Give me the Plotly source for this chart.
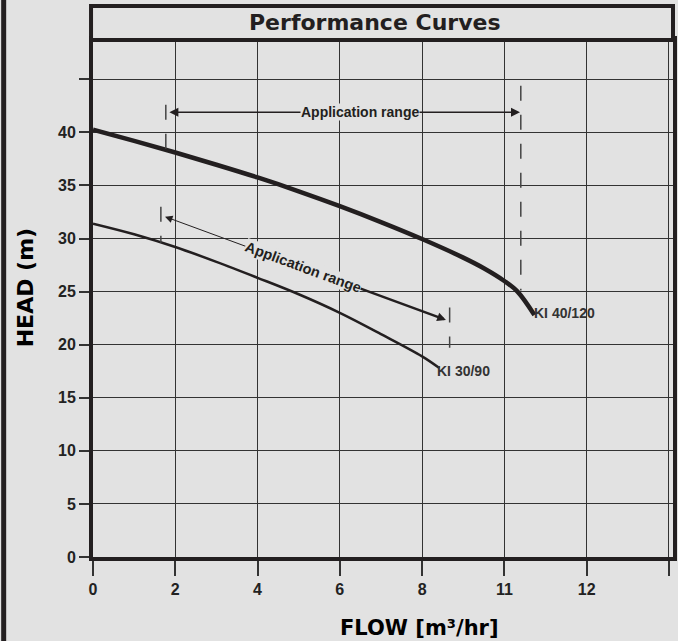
import plotly.graph_objects as go

# ---- data ----
ki40_flow = [0, 1, 2, 3, 4, 5, 6, 7, 8, 9, 9.5, 10, 10.32, 10.73]
ki40_head = [40.25, 39.2, 38.1, 36.95, 35.75, 34.45, 33.05, 31.55, 29.95, 28.2, 27.2, 26.0, 25.0, 22.8]

ki30_flow = [0, 1, 2, 3, 4, 5, 6, 7, 8, 8.42]
ki30_head = [31.4, 30.4, 29.2, 27.8, 26.3, 24.75, 23.0, 21.0, 18.9, 17.8]

x_tickvals = [0, 2, 4, 6, 8, 10, 12, 14]
x_ticktext = ["0", "2", "4", "6", "8", "11", "12", ""]
y_tickvals = [0, 5, 10, 15, 20, 25, 30, 35, 40, 45]
y_ticktext = ["0", "5", "10", "15", "20", "25", "30", "35", "40", ""]

# application-range markers
ki40_range_flow = [1.82, 10.38]
ki40_range_head = 41.9
ki40_text_flow = 6.48
ki40_left_tick_x = [1.77, 1.77]
ki40_left_tick_y = [42.6, 38.3]
ki40_right_tick_x = [10.4, 10.4]
ki40_right_tick_y = [44.4, 25.1]

ki30_range_flow = [1.75, 8.58]
ki30_range_head = [32.06, 22.33]
ki30_left_tick_x = [1.65, 1.65]
ki30_left_tick_y = [33.0, 29.6]
ki30_right_tick_x = [8.67, 8.67]
ki30_right_tick_y = [23.5, 19.7]

BG = "#e2e2e2"
INK = "#231f20"
BOLD = "Liberation Sans"
HEAVY = "DejaVu Sans"
NARROW = "Liberation Sans Narrow, Liberation Sans, Arial"

fig = go.Figure()

fig.add_trace(go.Scatter(x=ki40_flow, y=ki40_head, mode="lines",
                         line=dict(color=INK, width=4.5, shape="spline", smoothing=1.0),
                         showlegend=False, hoverinfo="skip"))
fig.add_trace(go.Scatter(x=ki30_flow, y=ki30_head, mode="lines",
                         line=dict(color=INK, width=2.5, shape="spline", smoothing=1.0),
                         showlegend=False, hoverinfo="skip"))

for xs, ys in [(ki40_left_tick_x, ki40_left_tick_y), (ki40_right_tick_x, ki40_right_tick_y),
               (ki30_left_tick_x, ki30_left_tick_y), (ki30_right_tick_x, ki30_right_tick_y)]:
    fig.add_trace(go.Scatter(x=xs, y=ys, mode="lines",
                             line=dict(color="#444", width=1.5, dash="15px,14px"),
                             showlegend=False, hoverinfo="skip"))

# upper application range arrow
fig.add_annotation(x=ki40_range_flow[1], y=ki40_range_head, ax=ki40_range_flow[0], ay=ki40_range_head,
                   xref="x", yref="y", axref="x", ayref="y", text="", showarrow=True,
                   arrowhead=2, arrowside="end+start", arrowwidth=1.5, arrowsize=1.2, arrowcolor=INK)
fig.add_annotation(x=ki40_text_flow, y=ki40_range_head, text="<b>Application range</b>", showarrow=False,
                   xanchor="center", yanchor="middle",
                   font=dict(family=NARROW, size=14, color=INK), bgcolor=BG, borderpad=0)

# lower application range arrow (thin left part, thicker right part)
t = 0.49
mid_x = ki30_range_flow[0] + t * (ki30_range_flow[1] - ki30_range_flow[0])
mid_y = ki30_range_head[0] + t * (ki30_range_head[1] - ki30_range_head[0])
fig.add_annotation(x=ki30_range_flow[0], y=ki30_range_head[0], ax=mid_x, ay=mid_y,
                   xref="x", yref="y", axref="x", ayref="y", text="", showarrow=True,
                   arrowhead=2, arrowwidth=1, arrowsize=1.5, arrowcolor=INK)
fig.add_annotation(x=ki30_range_flow[1], y=ki30_range_head[1], ax=mid_x, ay=mid_y,
                   xref="x", yref="y", axref="x", ayref="y", text="", showarrow=True,
                   arrowhead=2, arrowwidth=2.5, arrowsize=0.7, arrowcolor=INK)
fig.add_annotation(x=mid_x, y=mid_y, text="<b>Application range</b>", showarrow=False, textangle=20.2,
                   xanchor="center", yanchor="middle",
                   font=dict(family=NARROW, size=14.5, color=INK), bgcolor=BG, borderpad=0)

# curve labels
fig.add_annotation(x=ki40_flow[-1], y=ki40_head[-1], text="<b>KI 40/120</b>", showarrow=False,
                   xanchor="left", yanchor="middle", xshift=-2, yshift=2,
                   font=dict(family=NARROW, size=14, color="#333"))
fig.add_annotation(x=ki30_flow[-1], y=ki30_head[-1], text="<b>KI 30/90</b>", showarrow=False,
                   xanchor="left", yanchor="middle", xshift=-4, yshift=-3,
                   font=dict(family=NARROW, size=14, color="#333"))

# title box and title
fig.add_shape(type="rect", xref="paper", yref="paper", x0=-0.0034, x1=1.0, y0=1.0, y1=1.066,
              line=dict(color=INK, width=4), fillcolor=BG, layer="above")
fig.add_annotation(xref="paper", yref="paper", x=0.487, y=1.034, xanchor="center", yanchor="middle",
                   text="<b>Performance Curves</b>",
                   showarrow=False, font=dict(family=HEAVY, size=22, color=INK))

# left page border
fig.add_shape(type="line", xref="paper", yref="paper", x0=-0.154, x1=-0.154, y0=-0.3, y1=1.2,
              line=dict(color=INK, width=5))

# axis titles
fig.add_annotation(xref="paper", yref="paper", x=-0.117, y=0.52, xanchor="center", yanchor="middle",
                   text="<b>HEAD (m)</b>", textangle=-90,
                   showarrow=False, font=dict(family=HEAVY, size=22, color="#000"))
fig.add_annotation(xref="paper", yref="paper", x=0.563, y=-0.137, xanchor="center", yanchor="middle",
                   text="<b>FLOW [m³/hr]</b>",
                   showarrow=False, font=dict(family=HEAVY, size=21, color="#000"))

fig.update_xaxes(range=[0, 14.1], tickvals=x_tickvals, ticktext=x_ticktext,
                 showgrid=True, gridcolor="#333", gridwidth=1.2, zeroline=False,
                 showline=True, linecolor=INK, linewidth=4, mirror=True,
                 ticks="outside", ticklen=15, tickwidth=1.5, tickcolor="#333",
                 tickfont=dict(family=BOLD, size=16, color="#222", weight="bold"))
fig.update_yaxes(range=[0, 48.7], tickvals=y_tickvals, ticktext=y_ticktext,
                 showgrid=True, gridcolor="#333", gridwidth=1.2, zeroline=False,
                 showline=True, linecolor=INK, linewidth=4, mirror=True,
                 ticks="outside", ticklen=10, tickwidth=1.5, tickcolor="#333",
                 tickfont=dict(family=BOLD, size=16, color="#222", weight="bold"))

fig.update_layout(width=678, height=641, paper_bgcolor=BG, plot_bgcolor=BG,
                  margin=dict(l=93, r=1, t=40, b=84), showlegend=False)

fig.write_html("out.html",
               config={"displayModeBar": False},
               post_script="document.body.style.margin='0';"
                           "document.body.style.background='#e2e2e2';"
                           "document.body.style.overflow='hidden';")
